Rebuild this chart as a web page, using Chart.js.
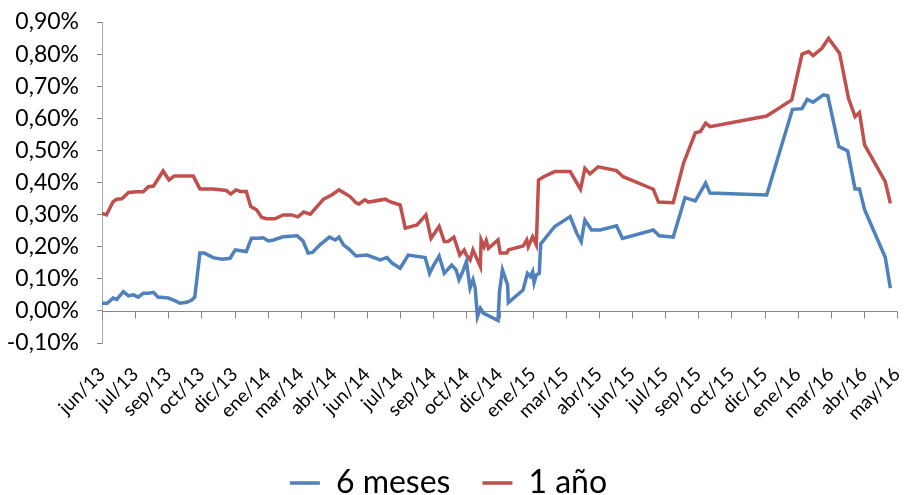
<!DOCTYPE html>
<html>
<head>
<meta charset="utf-8">
<script src="https://cdn.jsdelivr.net/npm/chart.js@4"></script>
<style>
  html, body { margin: 0; padding: 0; background: #fff; }
  #wrap { width: 905px; height: 495px; position: relative; }
</style>
</head>
<body>
<div id="wrap"><canvas id="tipos"></canvas></div>
<script>
// Etiquetas del eje X (una cada 45 días desde mediados de junio 2013)
const etiquetas = ['jun/13', 'jul/13', 'sep/13', 'oct/13', 'dic/13', 'ene/14', 'mar/14', 'abr/14',
    'jun/14', 'jul/14', 'sep/14', 'oct/14', 'dic/14', 'ene/15', 'mar/15', 'abr/15', 'jun/15',
    'jul/15', 'sep/15', 'oct/15', 'dic/15', 'ene/16', 'mar/16', 'abr/16', 'may/16'];
const pasoDias = 45;

// 6 meses: día (desde el inicio) y tipo en %
const dias6m = [0, 7, 15, 20, 29, 36, 43, 49, 56, 63, 70, 76, 90, 99, 106, 115, 122, 126, 133, 139,
    151, 163, 174, 181, 196, 203, 212, 219, 226, 233, 246, 265, 273, 280, 286, 296, 309, 317, 322, 328,
    336, 345, 360, 378, 387, 394, 405, 416, 439, 445, 450, 458, 465, 475, 481, 485, 490, 495, 500, 504,
    507, 510, 514, 518, 538, 540, 544, 551, 552, 572, 578, 582, 585, 587, 590, 594, 596, 615, 636, 645,
    651, 656, 665, 677, 699, 707, 749, 757, 776, 792, 806, 820, 826, 903, 938, 951, 958, 966, 980, 986,
    1001, 1013, 1023, 1029, 1036, 1064, 1071];
const tipo6m = [0.024, 0.024, 0.040, 0.036, 0.060, 0.047, 0.050, 0.043, 0.055, 0.055, 0.058, 0.043, 0.040, 0.032, 0.024, 0.027, 0.034, 0.043, 0.180, 0.180,
    0.166, 0.161, 0.164, 0.190, 0.185, 0.226, 0.226, 0.228, 0.218, 0.221, 0.231, 0.234, 0.218, 0.180, 0.182, 0.206, 0.230, 0.221, 0.230, 0.206,
    0.192, 0.171, 0.174, 0.159, 0.166, 0.149, 0.133, 0.174, 0.166, 0.117, 0.140, 0.171, 0.117, 0.143, 0.128, 0.097, 0.122, 0.154, 0.071, 0.097,
    0.071, -0.018, 0.008, -0.007, -0.030, 0.060, 0.128, 0.081, 0.026, 0.065, 0.117, 0.107, 0.122, 0.088, 0.112, 0.117, 0.209, 0.263, 0.294, 0.242,
    0.216, 0.283, 0.252, 0.252, 0.265, 0.226, 0.252, 0.234, 0.230, 0.353, 0.343, 0.398, 0.367, 0.361, 0.628, 0.630, 0.659, 0.650, 0.673, 0.670,
    0.512, 0.498, 0.380, 0.380, 0.315, 0.167, 0.071];

// 1 año
const dias1a = [0, 6, 15, 20, 27, 36, 47, 56, 63, 70, 83, 91, 98, 124, 133, 151, 169, 175, 182, 188,
    196, 202, 210, 217, 224, 235, 246, 258, 266, 274, 283, 301, 312, 322, 337, 345, 349, 357, 362, 385,
    391, 405, 412, 428, 440, 447, 458, 465, 470, 478, 486, 492, 495, 500, 504, 508, 514, 515, 519, 522,
    525, 538, 541, 550, 552, 572, 577, 579, 585, 590, 593, 600, 615, 636, 650, 656, 663, 674, 699, 708,
    749, 756, 776, 790, 806, 813, 820, 826, 903, 937, 951, 960, 966, 978, 987, 1002, 1014, 1023, 1029, 1036,
    1064, 1071];
const tipo1a = [0.304, 0.299, 0.340, 0.348, 0.349, 0.369, 0.371, 0.371, 0.387, 0.389, 0.436, 0.408, 0.420, 0.420, 0.380, 0.380, 0.375, 0.364, 0.377, 0.372,
    0.372, 0.325, 0.315, 0.291, 0.287, 0.287, 0.299, 0.299, 0.293, 0.308, 0.301, 0.348, 0.361, 0.377, 0.356, 0.337, 0.333, 0.346, 0.339, 0.348,
    0.340, 0.330, 0.258, 0.268, 0.299, 0.226, 0.263, 0.216, 0.216, 0.230, 0.174, 0.190, 0.174, 0.159, 0.190, 0.169, 0.138, 0.221, 0.200, 0.219,
    0.195, 0.221, 0.180, 0.180, 0.190, 0.202, 0.221, 0.200, 0.231, 0.206, 0.408, 0.418, 0.434, 0.434, 0.379, 0.444, 0.427, 0.449, 0.437, 0.418,
    0.379, 0.339, 0.337, 0.460, 0.555, 0.559, 0.585, 0.574, 0.607, 0.657, 0.800, 0.808, 0.795, 0.818, 0.849, 0.803, 0.663, 0.605, 0.618, 0.517,
    0.403, 0.335];

const AZUL = '#4F81BD';
const ROJO = '#C0504D';
const GRIS = '#868686';

function puntos(dias, tipos) {
    return dias.map((d, i) => ({ x: d, y: tipos[i] }));
}

// Línea del eje en 0% con sus marcas hacia abajo
const ejeCero = {
    id: 'ejeCero',
    beforeDatasetsDraw(chart) {
        const { ctx, chartArea, scales } = chart;
        const y0 = Math.round(scales.y.getPixelForValue(0)) + 0.5;
        ctx.save();
        ctx.strokeStyle = GRIS;
        ctx.lineWidth = 1;
        ctx.beginPath();
        ctx.moveTo(chartArea.left, y0);
        ctx.lineTo(chartArea.right, y0);
        scales.x.ticks.forEach(t => {
            const px = Math.round(scales.x.getPixelForValue(t.value)) + 0.5;
            ctx.moveTo(px, y0);
            ctx.lineTo(px, y0 + 7);
        });
        ctx.stroke();
        ctx.restore();
    }
};

Chart.defaults.font.family = 'Lato, "Open Sans", sans-serif';
Chart.defaults.color = '#000';

new Chart(document.getElementById('tipos'), {
    type: 'line',
    data: {
        datasets: [{
            label: '6 meses',
            data: puntos(dias6m, tipo6m),
            borderColor: AZUL,
            backgroundColor: AZUL,
            borderWidth: 3.5,
            pointRadius: 0,
            pointStyle: 'line',
            tension: 0
        }, {
            label: '1 año',
            data: puntos(dias1a, tipo1a),
            borderColor: ROJO,
            backgroundColor: ROJO,
            borderWidth: 3.5,
            pointRadius: 0,
            pointStyle: 'line',
            tension: 0
        }]
    },
    options: {
        responsive: true,
        maintainAspectRatio: false,
        animation: false,
        // el pie negativo baja la leyenda hasta donde está en el original
        layout: { padding: { top: 22, right: 8, left: 0, bottom: -14 } },
        plugins: {
            tooltip: { enabled: false },
            legend: {
                position: 'bottom',
                labels: {
                    usePointStyle: true,
                    pointStyleWidth: 30,
                    padding: 32,
                    font: { size: 32 }
                }
            }
        },
        scales: {
            x: {
                type: 'linear',
                min: 0,
                max: (etiquetas.length - 1) * pasoDias,
                afterBuildTicks: s => {
                    s.ticks = etiquetas.map((_, i) => ({ value: i * pasoDias }));
                },
                afterFit: s => {
                    s.height = 92;
                    s.paddingLeft = 0;
                    s.paddingRight = 0;
                },
                grid: { display: false },
                border: { display: false },
                ticks: {
                    autoSkip: false,
                    minRotation: 45,
                    maxRotation: 45,
                    padding: 12,
                    font: { size: 19 },
                    callback: v => etiquetas[Math.round(v / pasoDias)]
                }
            },
            y: {
                min: -0.1,
                max: 0.9,
                afterFit: s => {
                    s.width = 102;
                    s.paddingTop = 0;
                    s.paddingBottom = 0;
                },
                grid: {
                    drawOnChartArea: false,
                    drawTicks: true,
                    tickLength: 5,
                    color: GRIS
                },
                border: { display: true, color: '#A6A6A6', dash: [2, 2] },
                ticks: {
                    stepSize: 0.1,
                    autoSkip: false,
                    padding: 18,
                    font: { size: 23 },
                    callback: v => v.toFixed(2).replace('.', ',') + '%'
                }
            }
        }
    },
    plugins: [ejeCero]
});
</script>
</body>
</html>
